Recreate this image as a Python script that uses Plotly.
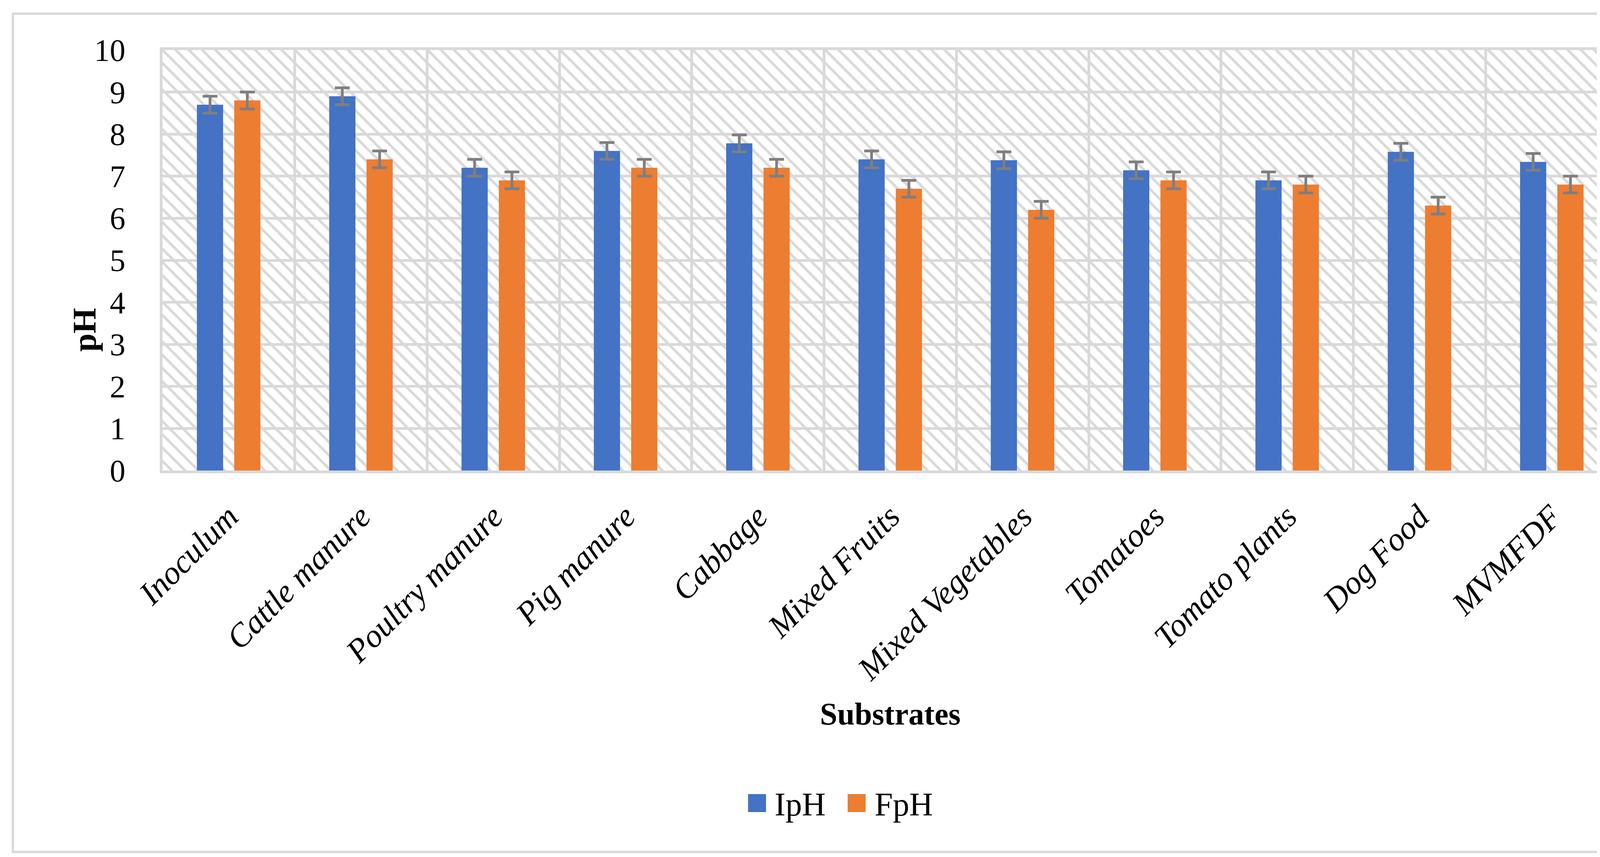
import plotly.graph_objects as go

categories = ["Inoculum", "Cattle manure", "Poultry manure", "Pig manure", "Cabbage",
              "Mixed Fruits", "Mixed Vegetables", "Tomatoes", "Tomato plants", "Dog Food", "MVMFDF"]
iph = [8.7, 8.9, 7.2, 7.6, 7.78, 7.4, 7.38, 7.14, 6.9, 7.58, 7.34]
fph = [8.8, 7.4, 6.9, 7.2, 7.2, 6.7, 6.2, 6.9, 6.8, 6.3, 6.8]
iph_err = [0.2] * 11
fph_err = [0.2] * 11
y_max = 10
y_ticks = list(range(0, 11))

FONT = "Liberation Serif"
GRID = "#d9d9d9"
BLUE = "#4472C4"
ORANGE = "#ED7D31"

fig = go.Figure()

# hatched plot-area background (one full-width cell per category)
fig.add_trace(go.Bar(
    x=categories, y=[y_max] * len(categories), width=1, offset=-0.5,
    marker=dict(color=GRID, line=dict(width=0),
                pattern=dict(shape="\\", size=24, solidity=0.28, fillmode="replace")),
    showlegend=False, hoverinfo="skip",
))

fig.add_trace(go.Bar(
    x=categories, y=iph, name="IpH", width=0.198, offset=-0.240,
    marker=dict(color=BLUE, line=dict(width=0)),
    error_y=dict(type="data", array=iph_err, color="#7f7f7f", thickness=7, width=19),
    showlegend=False,
))
fig.add_trace(go.Bar(
    x=categories, y=fph, name="FpH", width=0.198, offset=0.042,
    marker=dict(color=ORANGE, line=dict(width=0)),
    error_y=dict(type="data", array=fph_err, color="#7f7f7f", thickness=7, width=19),
    showlegend=False,
))

W, H = 4247, 2193
L, R, T, B = 408, 113, 120, 997
pw = W - L - R
ph = H - T - B

def px(x):
    return (x - L) / pw

def py(y):
    return (H - B - y) / ph

fig.update_layout(
    width=W, height=H,
    barmode="overlay",
    paper_bgcolor="white", plot_bgcolor="white",
    margin=dict(l=L, r=R, t=T, b=B, autoexpand=False),
    font=dict(family=FONT, color="black"),
    showlegend=False,
    xaxis=dict(
        type="category", tickson="boundaries", showgrid=True, gridcolor=GRID, gridwidth=7,
        showline=True, linecolor=GRID, linewidth=7, mirror=True,
        ticks="", tickangle=-45,
        tickfont=dict(family=FONT, size=84, style="italic", color="black"),
        ticklabelstandoff=28,
        range=[-0.5, len(categories) - 0.5],
    ),
    yaxis=dict(
        range=[0, y_max], tickvals=y_ticks, showgrid=True, gridcolor=GRID, gridwidth=7,
        showline=True, linecolor=GRID, linewidth=7, mirror=True, zeroline=False,
        ticks="", ticklabelstandoff=72,
        tickfont=dict(family=FONT, size=80, color="black"),
    ),
)

# outer chart border
fig.add_shape(type="rect", xref="paper", yref="paper",
              x0=px(25), x1=px(4226), y0=py(2172), y1=py(27),
              line=dict(color=GRID, width=6), fillcolor="rgba(0,0,0,0)", layer="below")

# axis titles
fig.add_annotation(text="<b>pH</b>", xref="paper", yref="paper", x=px(208), y=py(836),
                   textangle=-90, showarrow=False, xanchor="center", yanchor="middle",
                   font=dict(family=FONT, size=84, color="black"))
fig.add_annotation(text="<b>Substrates</b>", xref="paper", yref="paper", x=0.5, y=py(1819),
                   showarrow=False, xanchor="center", yanchor="middle",
                   font=dict(family=FONT, size=80, color="black"))

# legend
legend_items = [("IpH", BLUE, 1907, 1973), ("FpH", ORANGE, 2162, 2229)]
for label, color, sx, tx in legend_items:
    fig.add_shape(type="rect", xref="paper", yref="paper",
                  x0=px(sx), x1=px(sx + 46), y0=py(2070), y1=py(2024),
                  line=dict(width=0), fillcolor=color)
    fig.add_annotation(text=label, xref="paper", yref="paper", x=px(tx), y=py(2050),
                       showarrow=False, xanchor="left", yanchor="middle",
                       font=dict(family=FONT, size=84, color="black"))

fig.write_html("out.html")
